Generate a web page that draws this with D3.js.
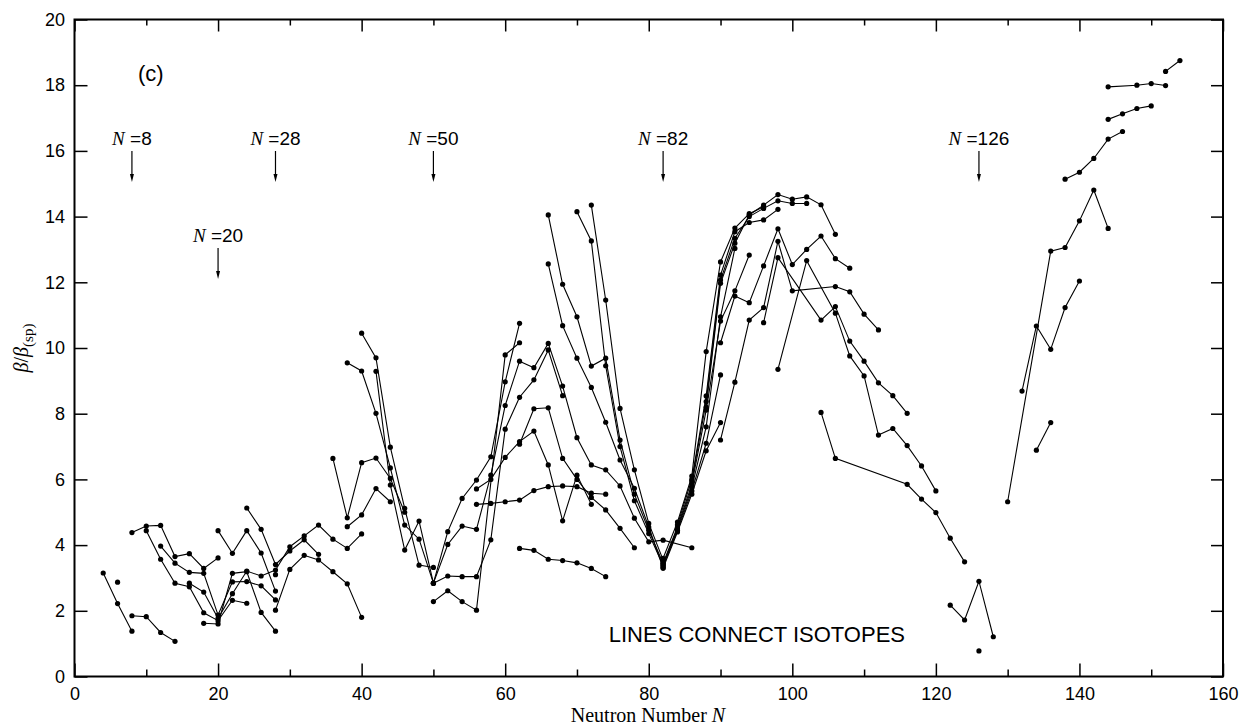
<!DOCTYPE html>
<html><head><meta charset="utf-8">
<script src="https://cdn.jsdelivr.net/npm/d3@7"></script>
<style>body{margin:0;background:#fff}svg{display:block}</style>
</head><body>
<svg id="c" width="1243" height="727"></svg>
<script>
// ---- data: isotope chains, [N, beta/beta_sp] ----
const C1 = [[4,3.15],[6,2.22],[8,1.38]];
const C2 = [[6,2.87]];
const C3 = [[8,1.85],[10,1.82],[12,1.34],[14,1.07]];
const C4 = [[8,4.38],[10,4.58],[12,4.60],[14,3.65],[16,3.74],[18,3.29],[20,3.61]];
const C5 = [[10,4.44],[12,3.57],[14,2.84],[16,2.73],[18,1.94],[20,1.70],[22,2.32],[24,2.23]];
const C6 = [[12,3.97],[14,3.45],[16,3.17],[18,3.14],[20,1.87],[22,2.88],[24,2.89],[26,2.76],[28,2.33]];
const C7 = [[16,2.84],[18,2.57],[20,1.77],[22,2.52],[24,3.21],[26,3.06],[28,3.24],[30,3.95],[32,4.28],[34,4.61],[36,4.18],[38,3.90],[40,4.34]];
const C8 = [[18,1.62],[20,1.60],[22,3.14],[24,3.19],[26,1.95],[28,1.38]];
const C9 = [[20,4.44],[22,3.75],[24,4.44],[26,3.76],[28,2.60]];
const C10 = [[24,5.13],[26,4.48],[28,3.41],[30,3.82],[32,4.16],[34,3.72]];
const C11 = [[28,2.02],[30,3.26],[32,3.69],[34,3.55],[36,3.19],[38,2.82],[40,1.80]];
const C12 = [[28,3.10]];
const K1 = [[38,4.56],[40,4.92],[42,5.72],[44,5.32]];
const K2 = [[36,6.64],[38,4.83],[40,6.51],[42,6.65],[44,6.03],[46,5.00]];
const K3 = [[40,10.45],[42,9.70],[44,6.98],[46,5.12],[48,3.39],[50,3.32]];
const K4 = [[38,9.55],[40,9.30],[42,8.01],[44,6.35],[46,4.61],[48,4.18],[50,2.84],[52,4.41],[54,5.42],[56,5.98],[58,6.69],[60,8.97],[62,10.75]];
const K5 = [[42,9.29],[44,5.83],[46,3.85],[48,4.73],[50,2.84],[52,4.02],[54,4.58],[56,4.48],[58,6.13],[60,8.25],[62,9.60],[64,9.40],[66,10.14],[68,8.84],[70,7.27],[72,6.44],[74,6.29],[76,5.80],[78,4.82],[80,4.10],[82,4.15],[86,3.92]];
const K6 = [[50,2.28],[52,2.61],[54,2.28],[56,2.02],[60,9.79],[62,10.16]];
const K7 = [[50,2.84],[52,3.06],[54,3.04],[56,3.04],[58,4.16],[60,7.53],[62,8.50],[64,9.03],[66,9.94],[68,8.55]];
const K8 = [[56,5.71],[58,6.00],[60,6.67],[62,7.15],[64,7.47],[66,6.44],[68,4.74],[70,6.13],[72,5.24]];
const K9 = [[56,5.24],[58,5.27],[60,5.32],[62,5.37],[64,5.66],[66,5.78],[68,5.80],[70,5.78],[72,5.58],[74,5.55]];
const K10 = [[62,3.90],[64,3.84],[66,3.57],[68,3.53],[70,3.46],[72,3.29],[74,3.04]];
const K11 = [[62,7.07],[64,8.15],[66,8.18],[68,6.64],[70,6.00],[72,5.45],[74,5.07],[76,4.51],[78,3.92]];
const T1 = [[66,14.05],[68,11.94],[70,10.95],[72,9.45],[74,9.69],[76,7.20],[78,5.55],[80,4.45],[82,3.45]];
const T2 = [[70,14.15],[72,13.26],[74,9.46],[76,7.00],[78,5.35],[80,4.35],[82,3.38]];
const T3 = [[72,14.35],[74,11.46],[76,8.16],[78,6.29],[80,4.66],[82,3.55]];
const T4 = [[66,12.56],[68,10.68],[70,9.69],[72,8.80],[74,7.74],[76,6.59],[78,5.73],[80,4.55],[82,3.30]];
const R1 = [[82,3.30],[84,4.40],[86,5.55],[88,6.87],[90,7.73]];
const R2 = [[82,3.35],[84,4.45],[86,5.65],[88,7.10],[90,9.18]];
const R3 = [[82,3.40],[84,4.50],[86,5.75],[88,7.60],[90,10.95],[92,13.03]];
const R4 = [[82,3.45],[84,4.55],[86,5.85],[88,8.11],[90,10.82],[92,11.74],[94,12.83]];
const R5 = [[82,3.60],[84,4.70],[86,6.10],[88,9.89],[90,12.62],[92,13.65],[94,14.09],[96,14.30]];
const R6 = [[84,4.62],[86,6.00],[88,8.54],[90,12.22],[92,13.54],[94,13.82],[96,13.90],[98,14.22]];
const R7 = [[86,5.95],[88,8.37],[90,12.07],[92,13.34],[94,14.00],[96,14.25],[98,14.48],[100,14.40],[102,14.40]];
const R8 = [[88,8.20],[90,11.97],[92,13.19],[94,14.05],[96,14.35],[98,14.67],[100,14.53],[102,14.60],[104,14.36],[106,13.46]];
const R9 = [[90,10.16],[92,11.58],[94,11.38],[96,12.50],[98,13.63],[100,12.54],[102,13.00],[104,13.41],[106,12.72],[108,12.43]];
const R10 = [[90,7.20],[92,8.96],[94,10.85],[96,11.23],[98,13.25],[100,11.74],[106,11.87],[108,11.71],[110,11.03],[112,10.55]];
const R11 = [[96,10.77],[98,12.75],[104,10.85],[106,11.26],[108,10.21],[110,9.60],[112,8.94],[114,8.55],[116,8.01]];
const R12 = [[98,9.35],[102,12.66],[106,11.06],[108,9.76],[110,9.15],[112,7.35],[114,7.55],[116,7.03],[118,6.41],[120,5.65]];
const R13 = [[104,8.04],[106,6.64],[116,5.85],[118,5.40],[120,4.99],[122,4.21],[124,3.49]];
const R14 = [[122,2.17],[124,1.72],[126,2.90],[128,1.21]];
const R15 = [[126,0.78]];
const A1 = [[130,5.32],[136,12.95],[138,13.06],[140,13.87],[142,14.81],[144,13.64]];
const A2 = [[132,8.69],[134,10.67],[136,9.96],[138,11.23],[140,12.04]];
const A3 = [[134,6.89],[136,7.73]];
const A4 = [[138,15.14],[140,15.35],[142,15.77],[144,16.36],[146,16.59]];
const A5 = [[144,16.96],[146,17.13],[148,17.29],[150,17.37]];
const A6 = [[144,17.95],[148,18.00],[150,18.05],[152,17.99]];
const A7 = [[152,18.42],[154,18.75]];

const chains = [C1,C2,C3,C4,C5,C6,C7,C8,C9,C10,C11,C12,K1,K2,K3,K4,K5,K6,K7,K8,K9,K10,K11,
  T1,T2,T3,T4,R1,R2,R3,R4,R5,R6,R7,R8,R9,R10,R11,R12,R13,R14,R15,A1,A2,A3,A4,A5,A6,A7];

const xMajor = [0,20,40,60,80,100,120,140,160];
const xMinor = [10,30,50,70,90,110,130,150];
const yMajor = [0,2,4,6,8,10,12,14,16,18,20];
const magic = [8,20,28,50,82,126];
const magicLow = [20];

// ---- drawing ----
const svg = d3.select('#c');
const x = d3.scaleLinear().domain([0,160]).range([74.5,1223]);
const y = d3.scaleLinear().domain([0,20]).range([676.5,19.5]);
const SANS = 'Liberation Sans, Arial, sans-serif';
const SERIF = 'Liberation Serif, Times New Roman, serif';

function styleAxis(g){
  g.select('.domain').remove();
  g.selectAll('line').attr('stroke','#000').attr('stroke-width',1.5);
  g.selectAll('text').attr('font-family',SANS).attr('font-size',18).attr('fill','#000');
}
// bottom
svg.append('g').attr('transform',`translate(0,${y(0)})`)
  .call(d3.axisBottom(x).tickValues(xMajor).tickFormat(d3.format('d')).tickSize(-13).tickPadding(10.5)).call(styleAxis);
svg.append('g').attr('transform',`translate(0,${y(0)})`)
  .call(d3.axisBottom(x).tickValues(xMinor).tickFormat('').tickSize(-7)).call(styleAxis);
// top
svg.append('g').attr('transform',`translate(0,${y(20)})`)
  .call(d3.axisTop(x).tickValues(xMajor).tickFormat('').tickSize(-12)).call(styleAxis);
svg.append('g').attr('transform',`translate(0,${y(20)})`)
  .call(d3.axisTop(x).tickValues(xMinor).tickFormat('').tickSize(-6)).call(styleAxis);
// left
svg.append('g').attr('transform',`translate(${x(0)},0)`)
  .call(d3.axisLeft(y).tickValues(yMajor).tickFormat(d3.format('d')).tickSize(-13).tickPadding(9.5)).call(styleAxis);
// right
svg.append('g').attr('transform',`translate(${x(160)},0)`)
  .call(d3.axisRight(y).tickValues(yMajor).tickFormat('').tickSize(-12)).call(styleAxis);
// frame
svg.append('rect').attr('x',x(0)).attr('y',y(20)).attr('width',x(160)-x(0)).attr('height',y(0)-y(20))
  .attr('fill','none').attr('stroke','#000').attr('stroke-width',2);

// chains
const line = d3.line().x(d=>x(d[0])).y(d=>y(d[1]));
const gData = svg.append('g');
chains.forEach(ch=>{
  if(ch.length>1) gData.append('path').attr('d',line(ch)).attr('fill','none').attr('stroke','#000').attr('stroke-width',1.1);
  gData.selectAll(null).data(ch).enter().append('circle')
    .attr('cx',d=>x(d[0])).attr('cy',d=>y(d[1])).attr('r',2.6).attr('fill','#000');
});

// magic number labels + arrows
magic.forEach(m=>{
  const low = magicLow.includes(m);
  const base = low ? 242 : 145;
  const t = svg.append('text').attr('x',x(m)).attr('y',base).attr('text-anchor','middle')
    .attr('font-size',19).attr('fill','#000');
  t.append('tspan').attr('font-family',SERIF).attr('font-style','italic').text('N');
  t.append('tspan').attr('font-family',SANS).text(' =' + m);
  const y0 = base + 6, y1 = base + 37;
  svg.append('line').attr('x1',x(m)).attr('x2',x(m)).attr('y1',y0).attr('y2',y1-6)
    .attr('stroke','#000').attr('stroke-width',1.2);
  svg.append('path').attr('d',`M${x(m)-2},${y1-8}L${x(m)+2},${y1-8}L${x(m)},${y1}Z`).attr('fill','#000');
});

// panel label
svg.append('text').attr('x',138).attr('y',81).attr('font-family',SANS).attr('font-size',22).text('(c)');
// note
svg.append('text').attr('x',905).attr('y',642).attr('text-anchor','end').attr('font-family',SANS)
  .attr('font-size',22).text('LINES CONNECT ISOTOPES');
// x title
const xt = svg.append('text').attr('x',648).attr('y',722).attr('text-anchor','middle')
  .attr('font-family',SERIF).attr('font-size',20);
xt.append('tspan').text('Neutron Number ');
xt.append('tspan').attr('font-style','italic').text('N');
// y title
const yt = svg.append('text').attr('transform','translate(28,348) rotate(-90)').attr('text-anchor','middle')
  .attr('font-family',SERIF).attr('font-size',20);
yt.append('tspan').attr('font-style','italic').text('β');
yt.append('tspan').text('/');
yt.append('tspan').attr('font-style','italic').text('β');
yt.append('tspan').attr('font-size',15).attr('dy',5).text('(sp)');
</script>
</body></html>
